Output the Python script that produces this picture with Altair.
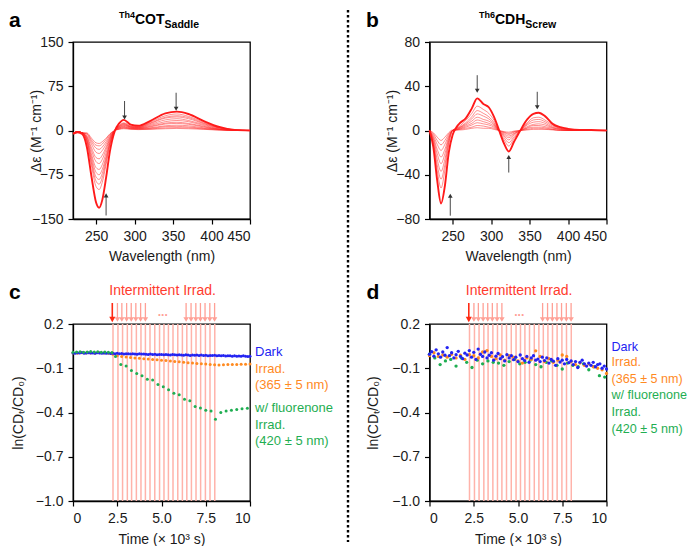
import altair as alt
import pandas as pd

FONT = "Liberation Sans"
INK = "#1a1a1a"
RED = "#ff1a1a"
BLUE = "#2323f2"
ORANGE = "#ff8a1f"
GREEN = "#1fae52"
PINK = "#ffb3aa"
ARROW_RED = "#ff2a12"
ARROW_PINK = "#ffa096"
W = 177
H = 177

# ---------------- panel a : Th4COT Saddle spectra ----------------
WL_A = [220, 226, 232, 238, 244, 250, 254, 258, 263, 268, 274, 280, 286, 295, 305, 320, 340, 355, 370, 390, 410, 430, 450]
A_THICK = [-6, -3, -6, -28, -78, -122, -131, -118, -80, -35, -2, 12, 18, 10, 8, 16, 29, 32, 28, 16, 6, 1, 0]
A_THIN = [
    [-5, -2, -4, -20, -60, -95, -100, -88, -58, -25, 0, 8.5, 13, 8, 6.5, 14, 25, 28, 24, 14, 5, 1, 0],
    [-5, -2, -4, -18, -55, -86, -91, -80, -53, -23, 0, 8, 12, 7, 6, 12.5, 22.5, 25, 22, 12.5, 5, 1, 0],
    [-5, -2, -4, -17, -50, -79, -83, -73, -48, -21, 0, 7, 11, 6.5, 5.5, 11.5, 21, 23, 20, 11.5, 4.5, 1, 0],
    [-5, -2, -4, -15, -45, -71, -75, -66, -44, -19, 0, 6.5, 10, 6, 5, 10, 18, 20, 17, 10, 4, 1, 0],
    [-5, -2, -4, -13, -40, -63, -66, -58, -38, -16, 0, 6, 9, 5.5, 4.5, 8.5, 15, 17, 15, 8.5, 3, 0.5, 0],
    [-5, -2, -4, -11, -34, -53, -56, -49, -32, -14, 0, 5, 8, 5, 4, 7, 12.5, 14, 12, 7, 2.5, 0.5, 0],
    [-5, -2, -4, -10, -29, -46, -48, -42, -28, -12, 0, 4.5, 7, 4, 3.5, 6, 11, 12, 10.5, 6, 2, 0.5, 0],
    [-5, -2, -4, -8, -23, -37, -39, -34, -23, -10, 0, 4, 6, 3.5, 3, 4.5, 8, 9, 8, 4.5, 2, 0, 0],
    [-5, -2, -4, -6, -19, -30, -32, -28, -19, -8, 0, 3, 5, 3, 2.5, 3.5, 6.5, 7, 6, 3.5, 1.5, 0, 0],
    [-5, -2, -4, -5, -16, -25, -26, -23, -15, -6.5, 0, 2.5, 4, 2.5, 2, 2.5, 4.5, 5, 4.5, 2.5, 1, 0, 0],
    [-5, -2, -4, -4, -13, -21, -22, -19, -13, -5.5, 0, 2, 3, 2, 1.5, 2, 3, 3.5, 3, 2, 0.5, 0, 0],
]
A_ARROW_WL = [287, 354, 263]
A_ARROW_FROM = [50, 64, -144]
A_ARROW_TO = [22, 37, -110]
A_ARROW_SHAPE = ["triangle-down", "triangle-down", "triangle-up"]

# ---------------- panel b : Th6CDH Screw spectra ----------------
WL_B = [220, 225, 230, 235, 240, 245, 250, 255, 260, 267, 275, 282, 290, 297, 304, 310, 317, 323, 330, 338, 347, 355, 362, 370, 380, 390, 400, 415, 430, 450]
B_THICK = [0, -15, -45, -66, -50, -20, -4, 3, 7, 11, 20, 29, 24, 21, 12, 1, -12, -19, -10, 0, 10, 15, 16, 13, 6, 3, 1.5, 0.5, 0.5, 0]
B_THIN = [
    [0, -13, -36, -52, -36, -13, 0, 2, 4.5, 9, 15.5, 22, 19, 15.5, 9, 0, -8.5, -14, -7, 0, 7, 11.5, 12, 9.5, 5, 2, 1, 0, 0, 0],
    [0, -11, -31, -44, -31, -11, 0, 2, 3.5, 7, 12.5, 18, 15.5, 12.5, 7, 0, -6.5, -11, -5.5, 0, 6, 9.5, 10, 8, 4, 2, 1, 0, 0, 0],
    [0, -9, -26, -37, -26, -9, 0, 1.5, 3, 6, 10.5, 15, 13, 10.5, 6, 0, -5, -8.5, -4, 0, 5, 7.5, 8, 6.5, 3, 1.5, 0.5, 0, 0, 0],
    [0, -7.5, -21, -30, -21, -7.5, 0, 1, 2.5, 5, 8.5, 12, 10, 8.5, 5, 0, -4, -6.5, -3, 0, 3.5, 5.5, 6, 5, 2.5, 1, 0.5, 0, 0, 0],
    [0, -6, -17, -24, -17, -6, 0, 1, 2, 4, 6.5, 9.5, 8, 6.5, 4, 0, -3, -5, -2.5, 0, 2.5, 4.5, 4.5, 3.5, 2, 1, 0, 0, 0, 0],
    [0, -4.5, -12.5, -18, -12.5, -4.5, 0, 0.5, 1.5, 3, 5, 7, 6, 5, 3, 0, -2, -3.5, -1.5, 0, 2, 3, 3, 2.5, 1, 0.5, 0, 0, 0, 0],
    [0, -3, -9, -13, -9, -3, 0, 0.5, 1, 2, 3, 4.5, 4, 3, 2, 0, -1.5, -2.5, -1, 0, 1, 2, 2, 1.5, 1, 0, 0, 0, 0, 0],
    [0, -2, -6, -9, -6, -2, 0.5, 0.5, 0.5, 1, 2, 2.5, 2, 2, 1, 0, -1, -1.5, -0.5, 0, 0.5, 1, 1, 1, 0.5, 0, 0, 0, 0, 0],
]
B_ARROW_WL = [282, 360, 323, 247]
B_ARROW_FROM = [50, 35, -38, -77]
B_ARROW_TO = [36, 21, -24, -59]
B_ARROW_SHAPE = ["triangle-down", "triangle-down", "triangle-up", "triangle-up"]

# ---------------- panels c / d : time courses ----------------
T125 = [0, 0.125, 0.25, 0.375, 0.5, 0.625, 0.75, 0.875, 1.0,
        1.125, 1.25, 1.375, 1.5, 1.625, 1.75, 1.875, 2.0,
        2.125, 2.25, 2.375, 2.5, 2.625, 2.75, 2.875, 3.0,
        3.125, 3.25, 3.375, 3.5, 3.625, 3.75, 3.875, 4.0,
        4.125, 4.25, 4.375, 4.5, 4.625, 4.75, 4.875, 5.0,
        5.125, 5.25, 5.375, 5.5, 5.625, 5.75, 5.875, 6.0,
        6.125, 6.25, 6.375, 6.5, 6.625, 6.75, 6.875, 7.0,
        7.125, 7.25, 7.375, 7.5, 7.625, 7.75, 7.875, 8.0,
        8.125, 8.25, 8.375, 8.5, 8.625, 8.75, 8.875, 9.0,
        9.125, 9.25, 9.375, 9.5, 9.625, 9.75, 9.875, 10.0]
T25 = [0, 0.25, 0.5, 0.75, 1.0, 1.25, 1.5, 1.75, 2.0, 2.25, 2.5, 2.75, 3.0, 3.25, 3.5, 3.75, 4.0,
       4.25, 4.5, 4.75, 5.0, 5.25, 5.5, 5.75, 6.0, 6.25, 6.5, 6.75, 7.0, 7.25, 7.5, 7.75, 8.0,
       8.25, 8.5, 8.75, 9.0, 9.25, 9.5, 9.75, 10.0]

C_DARK = [0.004, 0.002, 0.005, 0.003, 0.006, 0.002, 0.004, 0.005, 0.003,
          0.004, 0.001, 0.005, 0.003, 0.002, 0.004, 0.001, 0.003,
          0.000, 0.002, -0.001, 0.001, -0.002, 0.000, -0.003, -0.001,
          -0.002, -0.004, -0.001, -0.003, -0.005, -0.002, -0.004, -0.003,
          -0.005, -0.006, -0.004, -0.007, -0.005, -0.008, -0.006, -0.007,
          -0.009, -0.006, -0.008, -0.010, -0.007, -0.009, -0.011, -0.008,
          -0.010, -0.012, -0.009, -0.011, -0.013, -0.010, -0.012, -0.011,
          -0.013, -0.011, -0.014, -0.012, -0.015, -0.013, -0.014, -0.012,
          -0.015, -0.013, -0.016, -0.014, -0.017, -0.015, -0.016, -0.018,
          -0.016, -0.018, -0.017, -0.019, -0.016, -0.018, -0.020, -0.019]
C_365 = [0.004, 0.002, 0.005, 0.003, 0.004, 0.002, 0.005, 0.003, 0.002,
         -0.005, -0.015, -0.020, -0.024, -0.027, -0.030, -0.033, -0.036,
         -0.038, -0.041, -0.043, -0.046, -0.048, -0.051, -0.054, -0.056,
         -0.059, -0.062, -0.064, -0.067, -0.070, -0.072, -0.075, -0.077,
         -0.078, -0.076, -0.075, -0.074, -0.074, -0.073, -0.073, -0.072]
C_420_T = [0, 0.2, 0.4, 0.6, 0.8, 1.0, 1.2, 1.4, 1.6, 1.8, 2.0, 2.2, 2.4, 2.7, 3.0, 3.3, 3.6, 3.9, 4.2,
           4.5, 4.8, 5.1, 5.4, 5.7, 6.0, 6.3, 6.6, 6.9, 7.2, 7.5, 7.8, 8.05, 8.35, 8.65, 8.95, 9.25, 9.55, 9.85]
C_420 = [0.008, 0.010, 0.012, 0.009, 0.011, 0.013, 0.010, 0.012, 0.009, 0.011, 0.008, 0.006,
         -0.020, -0.075, -0.085, -0.115, -0.135, -0.150, -0.175, -0.180, -0.210, -0.225, -0.245,
         -0.270, -0.280, -0.310, -0.320, -0.360, -0.370, -0.385, -0.390,
         -0.445, -0.400, -0.390, -0.385, -0.380, -0.375, -0.372]

D_DARK = [-0.005, 0.012, -0.018, 0.025, -0.002, -0.025, 0.010, -0.012, 0.040,
          -0.015, 0.005, -0.030, -0.008, 0.015, -0.020, -0.035, 0.002,
          -0.010, 0.020, -0.025, 0.008, -0.040, 0.030, -0.005, -0.020,
          0.010, -0.030, -0.012, 0.005, -0.045, -0.018, 0.000, -0.035,
          -0.022, -0.050, -0.008, -0.030, -0.015, -0.042, -0.025, -0.055,
          -0.010, -0.035, -0.048, -0.020, -0.060, -0.030, -0.015, -0.045,
          -0.038, -0.055, -0.025, -0.048, -0.030, -0.065, -0.040, -0.052,
          -0.080, -0.035, -0.058, -0.045, -0.070, -0.040, -0.062, -0.050,
          -0.075, -0.055, -0.095, -0.060, -0.045, -0.070, -0.085, -0.065,
          -0.080, -0.060, -0.090, -0.075, -0.070, -0.100, -0.085, -0.105]
D_365 = [-0.015, 0.005, -0.020, -0.010, -0.025, -0.005, -0.030, -0.012, -0.040,
         -0.008, -0.015, -0.030, 0.010, 0.020, -0.020, -0.035, -0.010,
         -0.045, -0.015, -0.025, -0.050, -0.065, -0.030, -0.040, 0.018,
         -0.020, -0.055, -0.035, -0.060, -0.045, -0.010, -0.020, -0.055,
         -0.075, -0.065, -0.080, -0.070, -0.090, -0.100, -0.110, -0.135]
D_420_T = [0, 0.3, 0.6, 0.9, 1.2, 1.5, 1.8, 2.1, 2.4, 2.7, 3.0, 3.3, 3.6, 3.9, 4.2, 4.5, 4.8,
           5.1, 5.4, 5.7, 6.0, 6.3, 6.6, 6.9, 7.2, 7.5, 7.8, 8.1, 8.4, 8.7, 9.0, 9.3, 9.6, 9.9]
D_420 = [-0.005, -0.030, -0.075, -0.050, -0.040, -0.085, -0.030, -0.060, -0.095, -0.045,
         -0.070, -0.050, -0.060, -0.065, -0.080, -0.055, -0.040, -0.070, -0.060, -0.045,
         -0.075, -0.090, -0.060, -0.050, -0.080, -0.105, -0.065, -0.080, -0.090, -0.070,
         -0.110, -0.090, -0.150, -0.160]

IRRAD_LINES = [2.26, 2.54, 2.80, 3.07, 3.31, 3.58, 3.84, 4.09, 4.35, 4.62, 4.89, 5.14,
               5.39, 5.65, 5.92, 6.18, 6.43, 6.69, 6.95, 7.21, 7.48, 7.74, 8.01]
FIRST_ARROW = [2.22]
MORE_ARROWS = [2.51, 2.76, 3.03, 3.29, 3.55, 3.82, 4.09, 6.39, 6.67, 6.94, 7.20, 7.46, 7.73, 8.00]
ELLIPSIS_T = [5.07]
LABEL_T = [5.06]

LEGEND_TEXT = ["Dark", "Irrad.", "(365 ± 5 nm)", "w/ fluorenone", "Irrad.", "(420 ± 5 nm)"]
LEGEND_COLOR = [BLUE, ORANGE, ORANGE, GREEN, GREEN, GREEN]

ONE = pd.DataFrame({"k": [0]})


def text(s, x, y, size=13, color=INK, weight="normal", align="left", baseline="middle"):
    return alt.Chart(ONE).mark_text(
        text=s, font=FONT, fontSize=size, color=color, fontWeight=weight,
        align=align, baseline=baseline
    ).encode(x=alt.value(x), y=alt.value(y))


def long_table(wl, curves):
    rows = []
    for i, c in enumerate(curves):
        for w, v in zip(wl, c):
            rows.append({"wl": w, "v": v, "curve": i})
    return pd.DataFrame(rows)


def spectra(wl, thick, thins, ydom, yticks, arrows, letter, letter_x,
            t_sup, t_main, t_sub, title_x, main_w, extra=None):
    xs = alt.Scale(domain=[220, 450], nice=False, zero=False)
    ys = alt.Scale(domain=ydom, nice=False, zero=False)
    xax = alt.Axis(values=[250, 300, 350, 400, 450], format="d", title="Wavelength (nm)",
                   titleY=41, titleBaseline="alphabetic")
    yax = alt.Axis(values=yticks, format="d", title="Δε (M⁻¹ cm⁻¹)", titleX=-37,
                   titleY=H / 2, titleBaseline="middle", titleAngle=270)
    X = alt.X("wl:Q", scale=xs, axis=xax)
    thin = alt.Chart(long_table(wl, thins)).mark_line(
        color=RED, strokeWidth=0.9, opacity=0.55, interpolate="monotone"
    ).encode(x=X, y=alt.Y("v:Q", scale=ys, axis=yax), detail="curve:N")
    thk = alt.Chart(long_table(wl, [thick])).mark_line(
        color=RED, strokeWidth=1.9, interpolate="monotone"
    ).encode(x=X, y=alt.Y("v:Q", scale=ys, axis=yax))
    adf = pd.DataFrame({"wl": arrows[0], "y1": arrows[1], "v": arrows[2], "shape": arrows[3]})
    stems = alt.Chart(adf).mark_rule(color="#333333", strokeWidth=0.9).encode(
        x=X, y=alt.Y("y1:Q", scale=ys, axis=yax), y2="v:Q")
    heads = alt.Chart(adf).mark_point(filled=True, size=22, color="#333333", opacity=1).encode(
        x=X, y=alt.Y("v:Q", scale=ys, axis=yax), shape=alt.Shape("shape:N", scale=None))
    layers = [thin, thk, stems, heads,
              text(letter, letter_x, -32, size=21, weight="bold", color="#000000", baseline="top"),
              text(t_sup, title_x, -24.5, size=9, weight="bold", color="#000000", align="right", baseline="alphabetic"),
              text(t_main, title_x, -18, size=14, weight="bold", color="#000000", baseline="alphabetic"),
              text(t_sub, title_x + main_w, -14, size=10.5, weight="bold", color="#000000", baseline="alphabetic")]
    if extra is not None:
        layers.append(extra)
    return alt.layer(*layers).properties(width=W, height=H)


def timecourse(dark, i365, i420, letter, letter_x, ytitle_x, legend_x, legend_y, legend_size,
               dot_size, order):
    xs = alt.Scale(domain=[0, 10], nice=False, zero=False)
    ys = alt.Scale(domain=[-1.0, 0.2], nice=False, zero=False)
    xax = alt.Axis(values=[0, 2.5, 5, 7.5, 10],
                   labelExpr="datum.value == 0 ? '0' : datum.value == 10 ? '10' : format(datum.value, '.1f')",
                   title="Time (× 10³ s)", titleY=42, titleBaseline="alphabetic")
    yax = alt.Axis(values=[0.2, -0.1, -0.4, -0.7, -1.0], format=".1f", title="ln(CDₜ/CD₀)",
                   titleX=ytitle_x, titleY=H / 2, titleBaseline="middle", titleAngle=270)
    X = alt.X("t:Q", scale=xs, axis=xax)
    Y = alt.Y("v:Q", scale=ys, axis=yax)
    lines = alt.Chart(pd.DataFrame({"t": IRRAD_LINES})).mark_rule(
        color=PINK, strokeWidth=1.5).encode(x=X, y=alt.value(0), y2=alt.value(H))
    first_stem = alt.Chart(pd.DataFrame({"t": FIRST_ARROW})).mark_rule(
        color=ARROW_RED, strokeWidth=1.6).encode(x=X, y=alt.value(-21), y2=alt.value(-5))
    first_head = alt.Chart(pd.DataFrame({"t": FIRST_ARROW})).mark_point(
        shape="triangle-down", filled=True, size=38, color=ARROW_RED, opacity=1
    ).encode(x=X, y=alt.value(-4.5))
    more_stem = alt.Chart(pd.DataFrame({"t": MORE_ARROWS})).mark_rule(
        color=ARROW_PINK, strokeWidth=1.3).encode(x=X, y=alt.value(-21), y2=alt.value(-5))
    more_head = alt.Chart(pd.DataFrame({"t": MORE_ARROWS})).mark_point(
        shape="triangle-down", filled=True, size=30, color=ARROW_PINK, opacity=1
    ).encode(x=X, y=alt.value(-4.5))
    dots = alt.Chart(pd.DataFrame({"t": ELLIPSIS_T})).mark_text(
        text="...", font=FONT, fontSize=12, fontWeight="bold", color=ARROW_PINK, baseline="middle"
    ).encode(x=X, y=alt.value(-12))
    label = alt.Chart(pd.DataFrame({"t": LABEL_T})).mark_text(
        text="Intermittent Irrad.", font=FONT, fontSize=14, color="#ff3b2e", baseline="middle"
    ).encode(x=X, y=alt.value(-33))

    series = {
        "dark": alt.Chart(pd.DataFrame({"t": dark[0], "v": dark[1]})).mark_circle(
            size=dot_size, color=BLUE, opacity=1).encode(x=X, y=Y),
        "365": alt.Chart(pd.DataFrame({"t": i365[0], "v": i365[1]})).mark_circle(
            size=dot_size, color=ORANGE, opacity=1).encode(x=X, y=Y),
        "420": alt.Chart(pd.DataFrame({"t": i420[0], "v": i420[1]})).mark_circle(
            size=dot_size, color=GREEN, opacity=1).encode(x=X, y=Y),
    }
    layers = [lines] + [series[k] for k in order] + [first_stem, first_head, more_stem, more_head, dots, label,
                                                    text(letter, letter_x, -42.4, size=21, weight="bold",
                                                         color="#000000", baseline="top")]
    for s, c, yy in zip(LEGEND_TEXT, LEGEND_COLOR, legend_y):
        layers.append(text(s, legend_x, yy, size=legend_size, color=c))
    return alt.layer(*layers).properties(width=W, height=H)


separator = alt.Chart(ONE).mark_rule(color="#000000", strokeWidth=2.4, strokeDash=[2.4, 2.6]).encode(
    x=alt.value(275), y=alt.value(-32), y2=alt.value(500))

pa = spectra(WL_A, A_THICK, A_THIN, [-150, 150], [-150, -75, 0, 75, 150],
             (A_ARROW_WL, A_ARROW_FROM, A_ARROW_TO, A_ARROW_SHAPE), "a", -64,
             "Th4", "COT", "Saddle", 62, 29.6, extra=separator)
pb = spectra(WL_B, B_THICK, B_THIN, [-80, 80], [-80, -40, 0, 40, 80],
             (B_ARROW_WL, B_ARROW_FROM, B_ARROW_TO, B_ARROW_SHAPE), "b", -63.5,
             "Th6", "CDH", "Screw", 65.5, 30.3)
pc = timecourse((T125, C_DARK), (T25, C_365), (C_420_T, C_420), "c", -64, -55,
                182, [28, 44.7, 61.3, 84, 100.7, 117.3], 13, 9, ["365", "dark", "420"])
pd_ = timecourse((T125, D_DARK), (T25, D_365), (D_420_T, D_420), "d", -63, -56,
                 182, [23, 38, 54.7, 71.3, 88, 105.3], 12.6, 11, ["420", "365", "dark"])

chart = alt.concat(pa, pb, pc, pd_, columns=2, spacing={"row": 105, "column": 179.5},
                   bounds="flush", padding=0).configure_view(
    stroke="#000000", strokeWidth=1.3
).configure_axis(
    labelFont=FONT, titleFont=FONT, labelFontSize=14, titleFontSize=14,
    labelColor=INK, titleColor=INK, titleFontWeight="normal",
    tickSize=5, tickWidth=1.2, tickColor="#000000",
    domainColor="#000000", domainWidth=1.3, grid=False, labelPadding=5
)

chart.save("out.html", embed_options={"renderer": "svg", "actions": False})
